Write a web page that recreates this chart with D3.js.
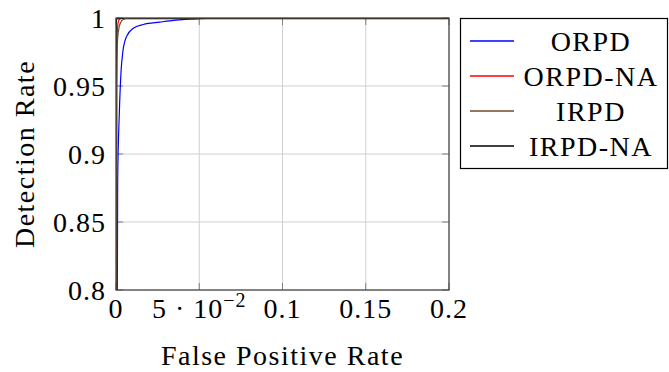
<!DOCTYPE html>
<html>
<head>
<meta charset="utf-8">
<script src="https://cdn.jsdelivr.net/npm/d3@7"></script>
<style>
  body { margin: 0; background: #fff; }
</style>
</head>
<body>
<div id="chart"></div>
<script>
// series names and colours
var seriesNames = ["ORPD", "ORPD-NA", "IRPD", "IRPD-NA"];
var seriesColors = ["#0000ff", "#ff0000", "#734d26", "#000000"];

// ROC points (false positive rate, detection rate)
var orpdFpr   = [0.0008, 0.0010, 0.0020, 0.0030, 0.0042, 0.0064, 0.0104, 0.0164, 0.0264, 0.0360, 0.0500, 0.0650, 0.2];
var orpdTpr   = [0.800, 0.880, 0.930, 0.960, 0.976, 0.9865, 0.9925, 0.9952, 0.9970, 0.9985, 0.9995, 1.000, 1.000];
var orpdnaFpr = [0.0004, 0.0005, 0.0008, 0.0012, 0.0020, 0.0035, 0.2];
var orpdnaTpr = [0.800, 0.970, 0.990, 0.996, 0.999, 1.000, 1.000];
var irpdFpr   = [0.0002, 0.0004, 0.0010, 0.0020, 0.0035, 0.0055, 0.0080, 0.2];
var irpdTpr   = [0.800, 0.950, 0.985, 0.994, 0.998, 0.9995, 1.000, 1.000];
var irpdnaFpr = [0.0000, 0.0001, 0.0004, 0.0010, 0.2];
var irpdnaTpr = [0.800, 0.990, 0.999, 0.9995, 0.9995];

var xTicks = [0, 0.05, 0.1, 0.15, 0.2];
var xTickLabels = ["0", "5 · 10^-2", "0.1", "0.15", "0.2"];
var yTicks = [0.8, 0.85, 0.9, 0.95, 1];
var yTickLabels = ["0.8", "0.85", "0.9", "0.95", "1"];

var width = 669, height = 372;
var plot = { left: 116, right: 449, top: 18, bottom: 290 };
var fontFamily = "'Liberation Serif', 'Times New Roman', Times, serif";

var x = d3.scaleLinear().domain([0, 0.2]).range([plot.left, plot.right]);
var y = d3.scaleLinear().domain([0.8, 1]).range([plot.bottom, plot.top]);

var svg = d3.select("#chart").append("svg")
    .attr("width", width)
    .attr("height", height)
    .attr("font-family", fontFamily)
    .style("font-family", fontFamily);

svg.append("clipPath").attr("id", "clip")
  .append("rect")
    .attr("x", plot.left).attr("y", plot.top)
    .attr("width", plot.right - plot.left)
    .attr("height", plot.bottom - plot.top);

// grid
var grid = svg.append("g").attr("stroke", "#d0d0d0").attr("stroke-width", 1);
xTicks.forEach(function (t) {
    grid.append("line")
        .attr("x1", x(t)).attr("x2", x(t))
        .attr("y1", plot.top).attr("y2", plot.bottom);
});
yTicks.forEach(function (t) {
    grid.append("line")
        .attr("x1", plot.left).attr("x2", plot.right)
        .attr("y1", y(t)).attr("y2", y(t));
});

// inner tick marks on all four sides
var tickLen = 7;
var ticks = svg.append("g").attr("stroke", "#808080").attr("stroke-width", 1);
xTicks.forEach(function (t) {
    ticks.append("line").attr("x1", x(t)).attr("x2", x(t))
        .attr("y1", plot.bottom).attr("y2", plot.bottom - tickLen);
    ticks.append("line").attr("x1", x(t)).attr("x2", x(t))
        .attr("y1", plot.top).attr("y2", plot.top + tickLen);
});
yTicks.forEach(function (t) {
    ticks.append("line").attr("y1", y(t)).attr("y2", y(t))
        .attr("x1", plot.left).attr("x2", plot.left + tickLen);
    ticks.append("line").attr("y1", y(t)).attr("y2", y(t))
        .attr("x1", plot.right).attr("x2", plot.right - tickLen);
});

// curves
var series = [
    { fpr: orpdFpr, tpr: orpdTpr },
    { fpr: orpdnaFpr, tpr: orpdnaTpr },
    { fpr: irpdFpr, tpr: irpdTpr },
    { fpr: irpdnaFpr, tpr: irpdnaTpr }
];
var line = d3.line()
    .x(function (d) { return x(d[0]); })
    .y(function (d) { return y(d[1]); })
    .curve(d3.curveMonotoneX);

var drawOrder = [0, 1, 3, 2];
var curves = svg.append("g").attr("clip-path", "url(#clip)");
drawOrder.forEach(function (i) {
    var pts = d3.zip(series[i].fpr, series[i].tpr);
    curves.append("path")
        .datum(pts)
        .attr("fill", "none")
        .attr("stroke", seriesColors[i])
        .attr("stroke-width", 1.2)
        .attr("d", line);
});

// frame
svg.append("rect")
    .attr("x", plot.left).attr("y", plot.top)
    .attr("width", plot.right - plot.left)
    .attr("height", plot.bottom - plot.top)
    .attr("fill", "none")
    .attr("stroke", "#404040")
    .attr("stroke-width", 1.2);

// tick labels
var fs = 28;
yTicks.forEach(function (t, i) {
    svg.append("text")
        .attr("x", plot.left - 10)
        .attr("y", y(t))
        .attr("dy", "0.35em")
        .attr("text-anchor", "end")
        .attr("font-size", fs)
        .attr("letter-spacing", 1)
        .text(yTickLabels[i]);
});
xTicks.forEach(function (t, i) {
    var lab = xTickLabels[i];
    var txt = svg.append("text")
        .attr("x", x(t))
        .attr("y", 318)
        .attr("text-anchor", "middle")
        .attr("font-size", fs)
        .attr("letter-spacing", 1);
    if (lab.indexOf("^") >= 0) {
        var parts = lab.split("^");
        txt.append("tspan").text(parts[0]);
        txt.append("tspan")
            .attr("dy", -11)
            .attr("font-size", 20)
            .text(parts[1].replace("-", "\u2212"));
    } else {
        txt.text(lab);
    }
});

// axis titles
svg.append("text")
    .attr("x", (plot.left + plot.right) / 2)
    .attr("y", 365)
    .attr("text-anchor", "middle")
    .attr("font-size", fs)
    .attr("letter-spacing", 1.5)
    .text("False Positive Rate");

svg.append("text")
    .attr("transform", "translate(34," + ((plot.top + plot.bottom) / 2) + ") rotate(-90)")
    .attr("text-anchor", "middle")
    .attr("font-size", fs)
    .attr("letter-spacing", 1.5)
    .text("Detection Rate");

// legend
var legend = svg.append("g");
legend.append("rect")
    .attr("x", 460.5).attr("y", 18.5)
    .attr("width", 207).attr("height", 150)
    .attr("fill", "#fff")
    .attr("stroke", "#000")
    .attr("stroke-width", 1.2);
seriesNames.forEach(function (name, i) {
    var ly = 41 + i * 35;
    legend.append("line")
        .attr("x1", 470).attr("x2", 514)
        .attr("y1", ly).attr("y2", ly)
        .attr("stroke", seriesColors[i])
        .attr("stroke-width", 1.4);
    legend.append("text")
        .attr("x", 591)
        .attr("y", ly)
        .attr("dy", "0.35em")
        .attr("text-anchor", "middle")
        .attr("font-size", fs)
        .attr("letter-spacing", 1.5)
        .text(name);
});
</script>
</body>
</html>
